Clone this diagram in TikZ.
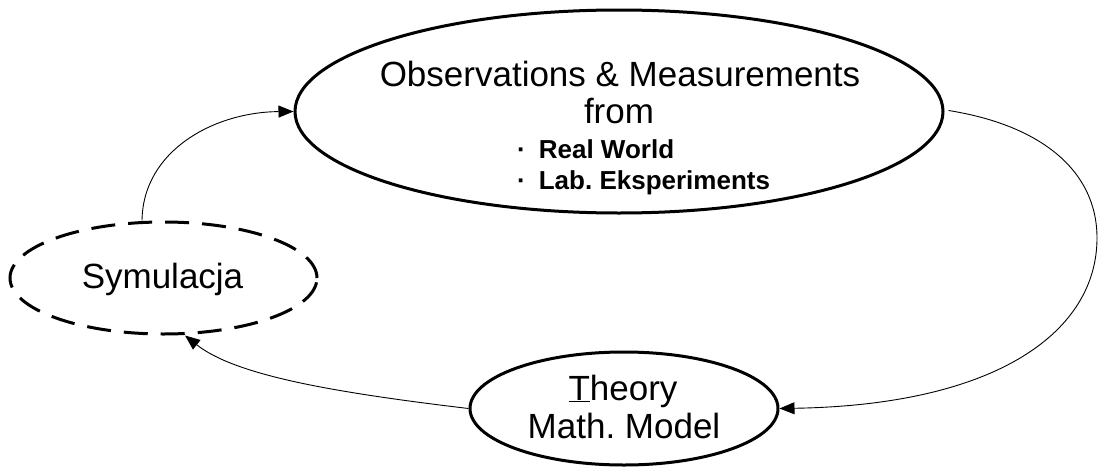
\documentclass[tikz,border=0pt]{standalone}
\usepackage{fontspec}
\setmainfont{Liberation Sans}
\usetikzlibrary{shapes.geometric,arrows.meta}
\frenchspacing
\tikzset{
  bubble/.style={ellipse,draw,line width=3pt,inner sep=0pt},
  dashbubble/.style={bubble,dash pattern=on 24pt off 13pt},
  big/.style={inner sep=0pt,font=\fontsize{35}{38}\selectfont},
  small/.style={inner sep=0pt,font=\fontsize{26}{29}\selectfont\bfseries},
  link/.style={line width=0.9pt,-{Triangle[length=15pt,width=12pt]}}
}
\begin{document}
\begin{tikzpicture}[x=1pt,y=-1pt]
\useasboundingbox (0,0) rectangle (1098,466);
% ellipses
\node[bubble,minimum width=648pt,minimum height=203pt] (obs) at (619,111.5) {};
\node[dashbubble,minimum width=307pt,minimum height=112pt] (sym) at (163.5,278) {};
\node[bubble,minimum width=308pt,minimum height=113pt] (theo) at (624,408.5) {};
% texts
\node[big,anchor=base] (t1) at (620,86) {Observations \& Measurements};
\node[big,anchor=base] (t2) at (619,123) {from};
\node[small,anchor=base west] (t3) at (517,158) {\textperiodcentered\hspace{13pt}Real World};
\node[small,anchor=base west] (t4) at (517,189) {\textperiodcentered\hspace{13pt}Lab. Eksperiments};
\node[big,anchor=base] (s1) at (162.5,288) {Symulacja};
\node[big,anchor=base] (m1) at (623,400) {\underline{T}heory};
\node[big,anchor=base] (m2) at (624,438) {Math. Model};
% connectors
\coordinate (rgt) at (1097,238);
\draw[link] (sym.north) ++(-21.5,0) .. controls (143,150) and (215,112) .. (obs.west);
\draw[line width=0.9pt] (obs.east) ++(4,-1) .. controls (1040,125) and (1097,170) .. (rgt);
\draw[link] (rgt) .. controls (1097,330) and (1000,405) .. (theo.east);
\draw[link] (theo.west) .. controls (330,392) and (235,375) .. ([xshift=21.5pt]sym.south);
\end{tikzpicture}
\end{document}
